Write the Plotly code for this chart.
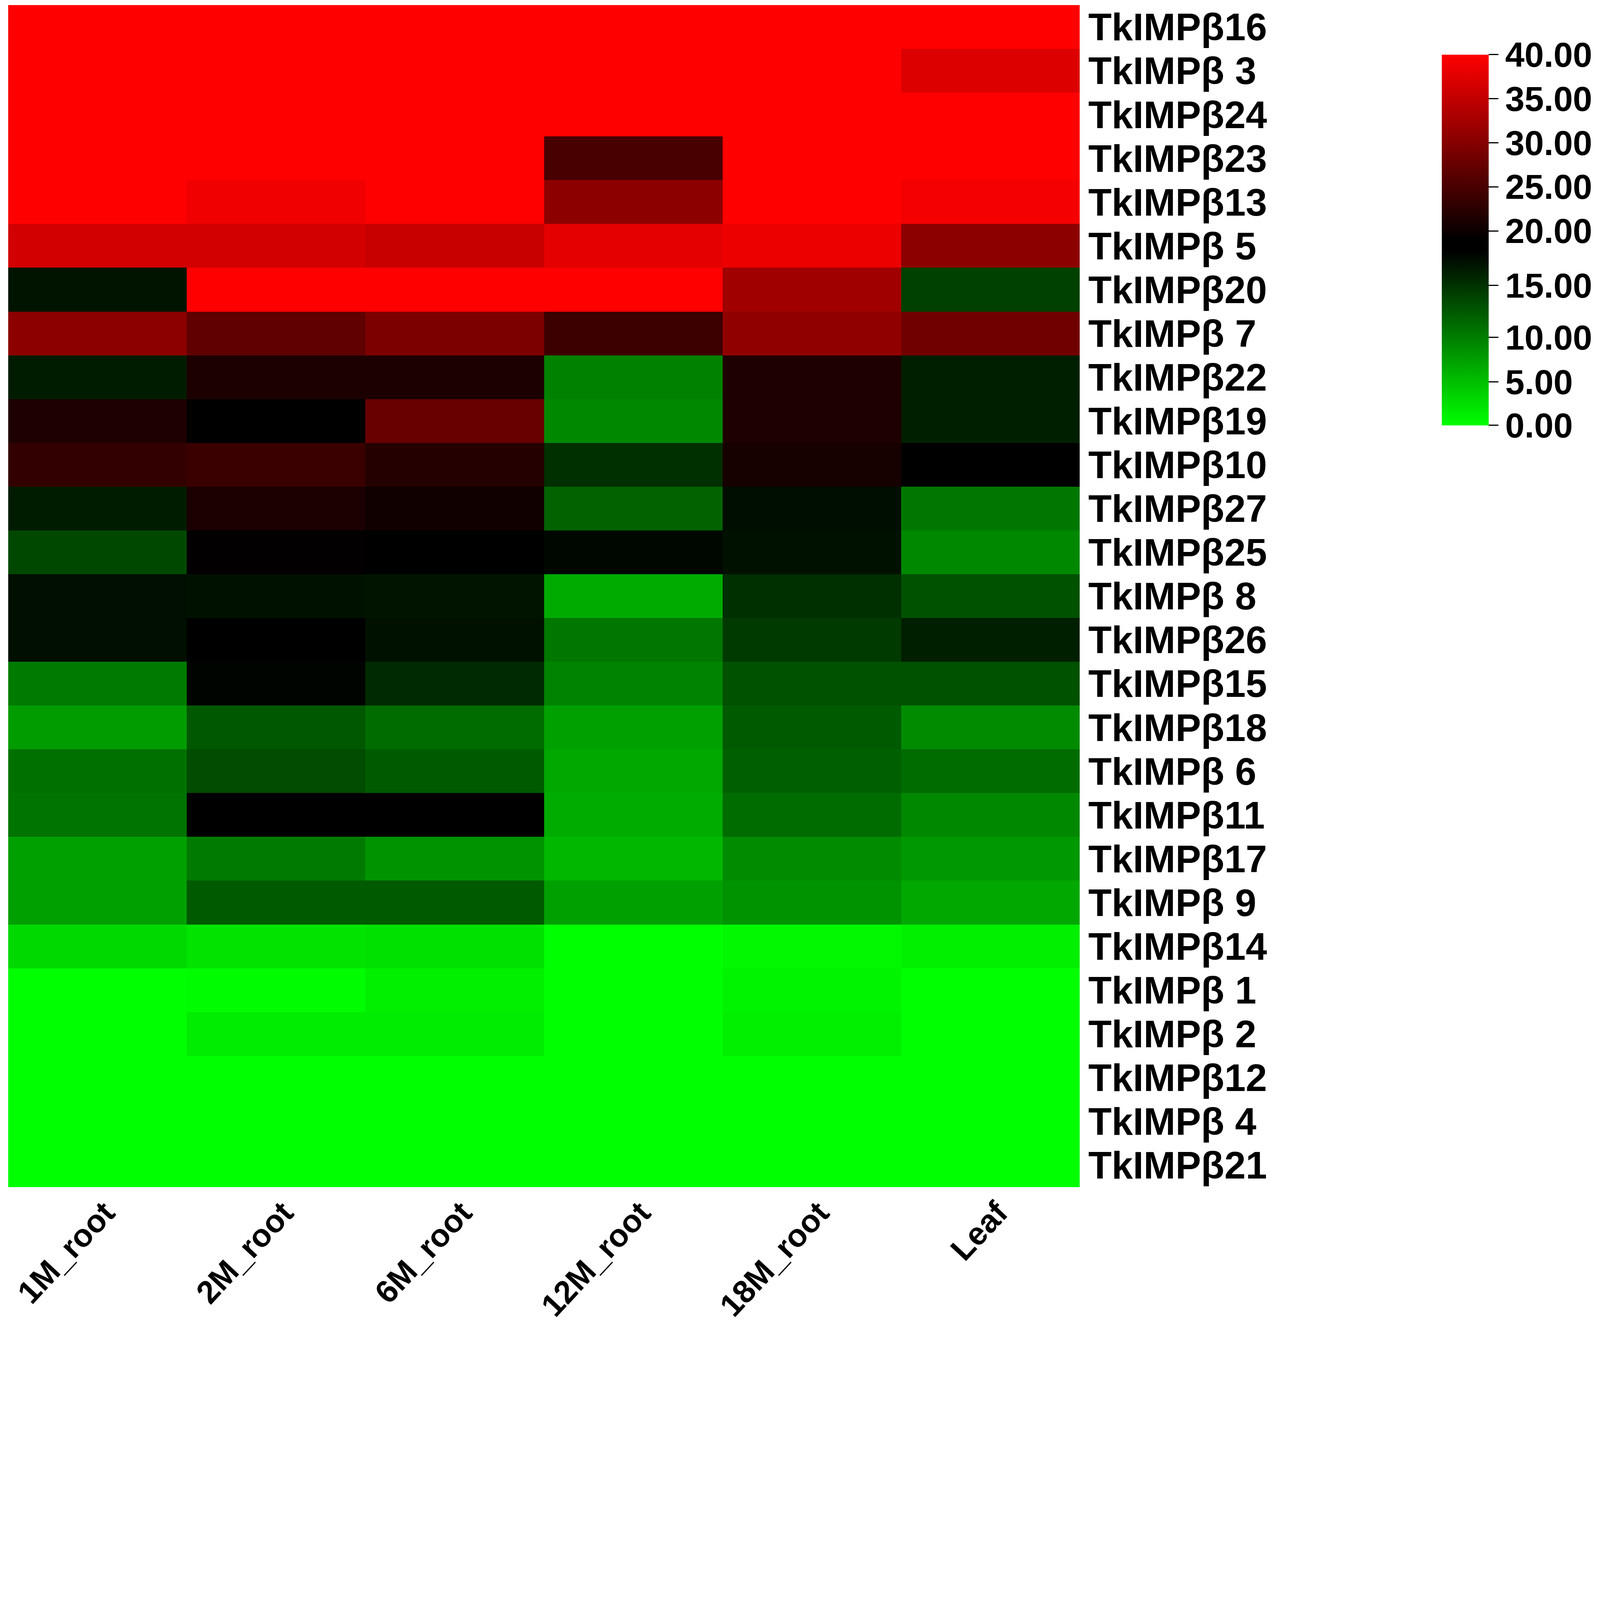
import numpy as np
import plotly.graph_objects as go

tissues = ["1M_root", "2M_root", "6M_root", "12M_root", "18M_root", "Leaf"]
genes = [
    "TkIMPβ16", "TkIMPβ 3", "TkIMPβ24", "TkIMPβ23", "TkIMPβ13", "TkIMPβ 5",
    "TkIMPβ20", "TkIMPβ 7", "TkIMPβ22", "TkIMPβ19", "TkIMPβ10", "TkIMPβ27",
    "TkIMPβ25", "TkIMPβ 8", "TkIMPβ26", "TkIMPβ15", "TkIMPβ18", "TkIMPβ 6",
    "TkIMPβ11", "TkIMPβ17", "TkIMPβ 9", "TkIMPβ14", "TkIMPβ 1", "TkIMPβ 2",
    "TkIMPβ12", "TkIMPβ 4", "TkIMPβ21",
]

# expression values per tissue, same order as genes
m1_root = [40, 40, 40, 40, 40, 36.3, 16.9, 30.5, 16.4, 21.5, 23.1, 16.4, 13.6, 17.2,
           17.2, 10.2, 7.7, 10.9, 10.7, 7.4, 7.4, 3.0, 0, 0, 0, 0, 0]
m2_root = [40, 40, 40, 40, 38.8, 36.4, 40, 26.9, 21.3, 19.0, 23.8, 21.1, 19.3, 17.1,
           19.0, 17.9, 12.5, 13.3, 19.0, 10.2, 12.4, 2.1, 0.2, 1.5, 0, 0, 0]
m6_root = [40, 40, 40, 40, 40, 35.5, 40, 29.2, 21.3, 27.6, 22.0, 20.3, 19.2, 16.9,
           17.1, 15.5, 11.2, 12.3, 19.0, 8.4, 12.4, 2.4, 1.2, 1.5, 0, 0, 0]
m12_root = [40, 40, 40, 24.9, 30.5, 37.8, 40, 23.9, 9.8, 9.3, 15.2, 11.8, 17.7, 6.6,
            10.4, 9.6, 7.4, 6.8, 6.5, 5.6, 7.4, 0, 0, 0, 0, 0, 0]
m18_root = [40, 40, 40, 40, 40, 38.4, 32.2, 30.9, 21.5, 21.5, 20.8, 17.3, 17.1, 15.2,
            14.5, 13.0, 12.3, 12.0, 11.2, 9.0, 8.4, 0.5, 0.9, 1.2, 0, 0, 0]
leaf = [40, 37.1, 40, 40, 39.2, 30.5, 14.1, 28.2, 16.3, 16.2, 19.2, 10.4, 9.3, 13.0,
        16.2, 13.0, 9.0, 11.2, 9.3, 8.0, 6.8, 1.2, 0, 0, 0, 0, 0]

# colour bar ticks and where they sit along the bar (not evenly spaced)
tick_values = [0, 5, 10, 15, 20, 25, 30, 35, 40]
tick_pos = [0, 0.117, 0.237, 0.377, 0.524, 0.643, 0.762, 0.881, 1.0]
tick_text = ["%.2f" % v for v in tick_values]

z = np.column_stack([m1_root, m2_root, m6_root, m12_root, m18_root, leaf])
z_pos = np.interp(z, tick_values, tick_pos)

# the browser window tops out at 4096 px, so draw the 7784x6440 layout scaled down
k = 4096 / 7784
W, H = 4096, round(6440 * k)
L, R, T, B = round(24 * k), round(2546 * k), round(10 * k), round(680 * k)
pw, ph = W - L - R, H - T - B


def bold(size):
    return dict(family="Liberation Sans", size=round(size * k), color="black", weight="bold")


fig = go.Figure(
    go.Heatmap(
        z=z_pos,
        x=tissues,
        y=genes,
        zmin=0,
        zmax=1,
        colorscale=[[0, "#00ff00"], [0.47, "#000000"], [0.5, "#000000"], [1, "#ff0000"]],
        colorbar=dict(
            tickvals=tick_pos,
            ticktext=tick_text,
            tickfont=bold(170),
            ticks="outside",
            ticklen=round(48 * k),
            tickwidth=3,
            tickcolor="black",
            outlinewidth=0,
            thicknessmode="pixels",
            thickness=round(228 * k),
            lenmode="pixels",
            len=round(1803 * k),
            x=(7000 * k - L) / pw,
            xanchor="left",
            y=(H - B - 250 * k) / ph,
            yanchor="top",
            xpad=0,
            ypad=0,
        ),
    )
)

fig.update_layout(
    template="none",
    width=W,
    height=H,
    margin=dict(l=L, r=R, t=T, b=B, autoexpand=False),
    plot_bgcolor="white",
    paper_bgcolor="white",
)
fig.update_xaxes(tickangle=-47, tickfont=bold(156), ticks="", showgrid=False,
                 zeroline=False, automargin=False, showline=False,
                 ticklabelshift=round(36 * k))
fig.update_yaxes(side="right", autorange="reversed", tickfont=bold(186), ticks="",
                 tickmode="array", tickvals=genes, showgrid=False, zeroline=False,
                 ticklabelstandoff=round(40 * k), automargin=False, showline=False)

fig.write_html("out.html")
